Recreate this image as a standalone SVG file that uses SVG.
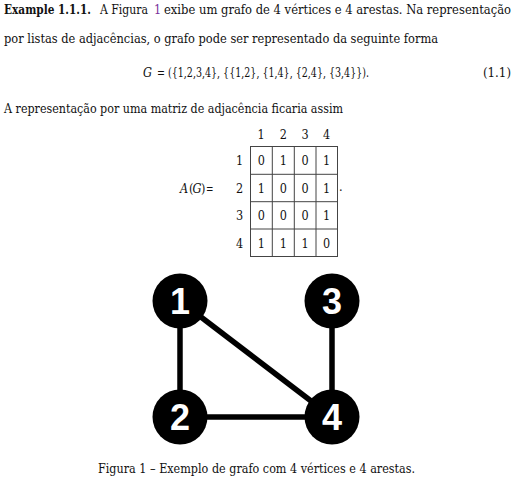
<svg xmlns="http://www.w3.org/2000/svg" width="516" height="483" viewBox="0 0 516 483">
<style>
.t{font-family:"DejaVu Serif Condensed","DejaVu Serif","Liberation Serif",serif;font-size:12.5px;fill:#111}
.b{font-weight:bold}
.i{font-style:italic}
.m{font-family:"DejaVu Serif Condensed","DejaVu Serif","Liberation Serif",serif;font-size:12.5px;fill:#111;text-anchor:middle}
.g{stroke:#444;stroke-width:1;fill:none}
.edge{stroke:#000;stroke-width:5.5;stroke-linecap:butt}
.node circle{fill:#000}
.node text{font-family:"Liberation Sans","Arial",sans-serif;font-weight:bold;font-size:36px;fill:#fff;text-anchor:middle}
</style>
<rect width="516" height="483" fill="#fff"/>
<text class="t b" x="4" y="14" textLength="87" lengthAdjust="spacingAndGlyphs">Example 1.1.1.</text>
<text class="t" x="100" y="14" textLength="48" lengthAdjust="spacingAndGlyphs">A Figura</text>
<text class="t" x="154" y="14" style="fill:#7b2f9b">1</text>
<text class="t" x="164" y="14" textLength="347" lengthAdjust="spacingAndGlyphs">exibe um grafo de 4 vértices e 4 arestas. Na representação</text>
<text class="t" x="4" y="43" textLength="434" lengthAdjust="spacingAndGlyphs">por listas de adjacências, o grafo pode ser representado da seguinte forma</text>
<text class="t i" x="143" y="77">G</text>
<text class="t" x="157" y="77" textLength="212" lengthAdjust="spacingAndGlyphs">= ({1,2,3,4}, {{1,2}, {1,4}, {2,4}, {3,4}}).</text>
<text class="t" x="483" y="77" textLength="28" lengthAdjust="spacingAndGlyphs">(1.1)</text>
<text class="t" x="4" y="113" textLength="339" lengthAdjust="spacingAndGlyphs">A representação por uma matriz de adjacência ficaria assim</text>

<g id="matrix">
<text class="t i" x="180" y="193">A</text>
<text class="t" x="189" y="193">(</text>
<text class="t i" x="192.5" y="193">G</text>
<text class="t" x="201" y="193">)</text>
<text class="t" x="206" y="193" textLength="7.5" lengthAdjust="spacingAndGlyphs">=</text>
<text class="m" x="261" y="139">1</text>
<text class="m" x="283.3" y="139">2</text>
<text class="m" x="305.2" y="139">3</text>
<text class="m" x="326.7" y="139">4</text>
<text class="m" x="239.5" y="164.5">1</text>
<text class="m" x="239.5" y="192.5">2</text>
<text class="m" x="239.5" y="220">3</text>
<text class="m" x="239.5" y="247.5">4</text>
<rect class="g" x="250.5" y="146.5" width="87" height="110"/>
<path class="g" d="M272.3 146.5V256.5M294.3 146.5V256.5M316 146.5V256.5M250.5 174.3H337.5M250.5 201.7H337.5M250.5 229H337.5"/>
<text class="m" x="261.4" y="164.5">0</text><text class="m" x="283.3" y="164.5">1</text><text class="m" x="305.2" y="164.5">0</text><text class="m" x="326.7" y="164.5">1</text>
<text class="m" x="261.4" y="192.5">1</text><text class="m" x="283.3" y="192.5">0</text><text class="m" x="305.2" y="192.5">0</text><text class="m" x="326.7" y="192.5">1</text>
<text class="m" x="261.4" y="220">0</text><text class="m" x="283.3" y="220">0</text><text class="m" x="305.2" y="220">0</text><text class="m" x="326.7" y="220">1</text>
<text class="m" x="261.4" y="247.5">1</text><text class="m" x="283.3" y="247.5">1</text><text class="m" x="305.2" y="247.5">1</text><text class="m" x="326.7" y="247.5">0</text>
<text class="t" x="339" y="191">.</text>
</g>

<g id="connectors">
<line class="edge" x1="180" y1="301" x2="180" y2="417"/>
<line class="edge" x1="180" y1="301" x2="332" y2="417"/>
<line class="edge" x1="180" y1="417" x2="332" y2="417"/>
<line class="edge" x1="332" y1="301" x2="332" y2="417"/>
</g>
<g id="node1" class="node"><circle cx="180" cy="301" r="27.5"/><text x="180" y="314">1</text></g>
<g id="node2" class="node"><circle cx="180" cy="417" r="27.5"/><text x="180" y="430">2</text></g>
<g id="node3" class="node"><circle cx="332" cy="301" r="27.5"/><text x="332" y="314">3</text></g>
<g id="node4" class="node"><circle cx="332" cy="417" r="27.5"/><text x="332" y="430">4</text></g>

<text class="t" x="98" y="473" textLength="317" lengthAdjust="spacingAndGlyphs">Figura 1 – Exemplo de grafo com 4 vértices e 4 arestas.</text>
</svg>
